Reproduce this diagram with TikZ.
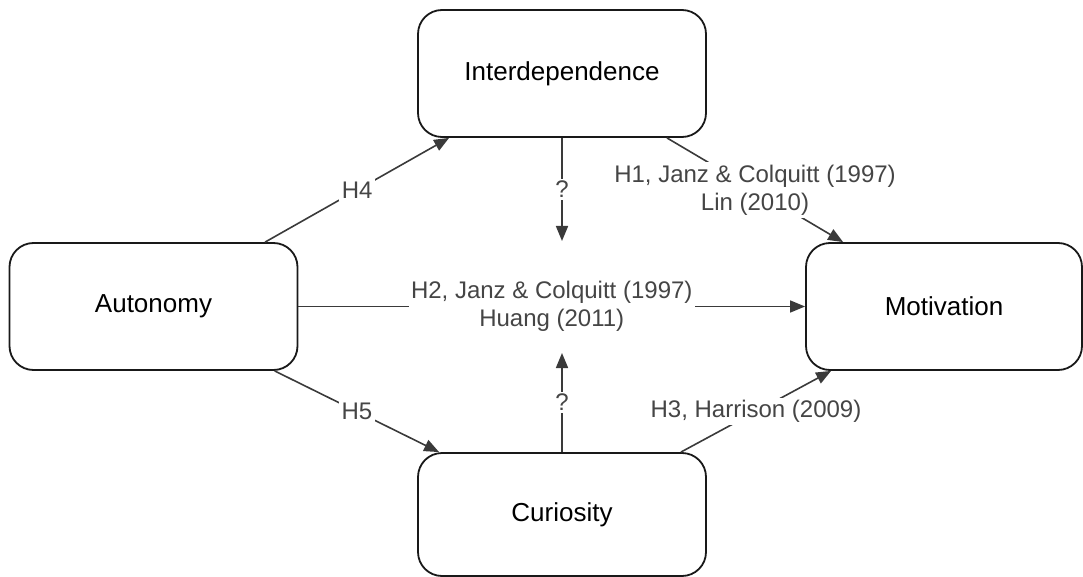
\documentclass[tikz,border=0pt]{standalone}
\usepackage{fontspec}
\setmainfont{Liberation Sans}
\usetikzlibrary{arrows.meta,calc}
\definecolor{edgecol}{HTML}{3A3A3A}
\definecolor{labcol}{HTML}{454545}
\begin{document}
\begin{tikzpicture}[x=1pt,y=-1pt,
  box/.style={draw=black!90, line width=1.8pt, rounded corners=24pt, inner sep=0pt,
    font=\fontsize{26}{30}\selectfont},
  edge/.style={draw=edgecol, line width=1.6pt, -{Triangle[length=15pt,width=12pt]}},
  lab/.style={fill=white, inner sep=2.5pt, text=labcol, align=center, midway,
    font=\fontsize{24}{28}\selectfont}]
\useasboundingbox (0,0) rectangle (1083,577);
\node[box, minimum width=288pt, minimum height=127pt] (inter) at (562,73.5) {Interdependence};
\node[box, minimum width=288pt, minimum height=127pt] (aut) at (153.5,306.5) {Autonomy};
\node[box, minimum width=276pt, minimum height=127pt] (mot) at (944,306.5) {Motivation};
\node[box, minimum width=288pt, minimum height=123pt] (cur) at (562,514.5) {Curiosity};
\coordinate (qd) at (562,241);
\coordinate (qu) at (562,353);
\draw[edge] ($(aut.north west)+(256.5,0)$) -- node[lab]{H4} ($(inter.south west)+(32,0)$);
\draw[edge] ($(aut.south west)+(266,0)$) -- node[lab]{H5} ($(cur.north west)+(22,0)$);
\draw[edge] (inter.south) -- node[lab]{?} (qd);
\draw[edge] (cur.north) -- node[lab]{?} (qu);
\draw[edge] ($(inter.south east)+(-40,0)$) -- node[lab]{H1, Janz \& Colquitt (1997)\\Lin (2010)} ($(mot.north west)+(38,0)$);
\draw[edge] (aut.east) -- node[lab]{H2, Janz \& Colquitt (1997)\\Huang (2011)} (mot.west);
\draw[edge] ($(cur.north east)+(-26,0)$) -- node[lab]{H3, Harrison (2009)} ($(mot.south west)+(26,0)$);
\end{tikzpicture}
\end{document}
